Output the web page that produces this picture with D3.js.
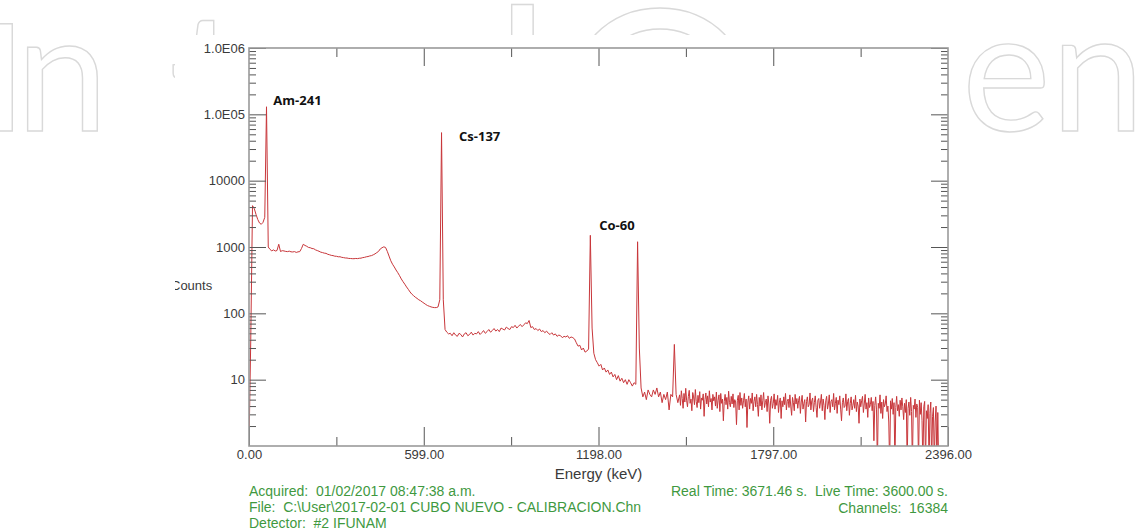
<!DOCTYPE html>
<html lang="en">
<head>
  <meta charset="utf-8">
  <title>Gamma spectrum - calibration</title>
  <script src="https://cdn.jsdelivr.net/npm/d3@7/dist/d3.min.js"></script>
  <style>
  body { margin: 0; background: #fff; }
  .tick text { font-family: "Liberation Sans", Arial, sans-serif; font-size: 13px; fill: #3a3a3a; }
  .tick line { stroke: #555; stroke-width: 1; }
  .domain { display: none; }
  .info { font-family: "Liberation Sans", Arial, sans-serif; font-size: 14px; fill: #3f993f; }
  .peak { font-family: "Open Sans", sans-serif; font-weight: bold; font-size: 13px; fill: #111; }
  .wm { font-family: Lato, sans-serif; fill: #fff; stroke: #d9d9d9; stroke-width: 1.4; }
  </style>
</head>
<body>
<div id="chart"></div>
<script>
// spectrum values (counts per channel)
// first three blocks: one value every 6 keV starting at 0 keV
var stepKeV = 6;
var lowCounts = [ // 0 - 534 keV : Am-241 region and Compton continuum
  1, 40, 4200, 3800, 3100, 2600, 2300, 2200, 2350, 2800,
  130000, 1000, 920, 875, 905, 870, 885, 1100, 855, 880,
  872, 858, 852, 866, 846, 842, 853, 828, 845, 852,
  950, 1100, 1055, 1025, 985, 975, 948, 942, 905, 884,
  862, 836, 824, 808, 802, 776, 764, 748, 742, 727,
  724, 712, 713, 698, 692, 683, 682, 672, 671, 667,
  666, 672, 668, 676, 679, 692, 698, 712, 718, 733,
  742, 763, 788, 823, 858, 935, 975, 1005, 985, 860,
  730, 620, 550, 500, 450, 410, 370, 330, 300, 275
];
var csCounts = [ // 540 - 1164 keV : Cs-137 peak and plateau
  250, 230, 210, 195, 185, 175, 168, 160, 155, 148,
  142, 136, 131, 128, 125, 123, 122, 122, 125, 160,
  53000, 160, 57, 52, 49, 50, 46, 51, 47, 45,
  50, 48, 44, 49, 51, 46, 48, 52, 47, 50,
  49, 53, 48, 51, 55, 50, 53, 57, 52, 55,
  59, 54, 57, 53, 60, 58, 56, 62, 59, 57,
  63, 61, 66, 60, 64, 68, 63, 67, 72, 70,
  78, 61, 63, 57, 59, 55, 58, 53, 55, 51,
  54, 50, 48, 51, 47, 49, 45, 47, 46, 43,
  45, 44, 46, 42, 44, 43, 41, 36, 32, 33,
  28, 30, 26, 27, 29
];
var coCounts = [ // 1170 - 1470 keV : Co-60 and K-40 peaks
  1500, 60, 25, 20, 18, 16, 17, 14, 15, 13,
  14, 12, 13, 11, 12, 10, 11.5, 9.5, 10.5, 9,
  10, 8.5, 10, 9, 8, 9, 8.5, 1200, 30, 7.5,
  5.5, 6.5, 5, 7, 6, 5.5, 7, 6, 7.5, 5.5,
  6.5, 4.5, 6, 5, 6.5, 3.5, 6, 5.5, 34, 6,
  4.5
];
// background tail: one value every 3 keV from 1476 keV
var tailStartKeV = 1476, tailStepKeV = 3;
var tailCounts = [
  5.9, 4.1, 6.8, 5.2, 3.7, 6.2, 4.6, 7.4, 4.9, 3.9, 5.6, 6.9, 4.4, 5.1, 3.4, 6.4, 5.5, 4.2, 7.1, 4.7,
  3.8, 5.8, 4.5, 6.6, 3.6, 5.3, 4.9, 6.1, 2.8, 5.0, 6.3, 4.3, 5.7, 3.9, 6.8, 4.6, 5.2, 3.5, 6.0, 4.8,
  5.5, 4.0, 6.5, 3.7, 4.9, 5.9, 3.3, 6.2, 4.4, 5.1, 2.4, 4.7, 6.0, 4.2, 5.4, 3.6, 6.7, 4.5, 3.9, 5.6,
  4.3, 6.1, 3.8, 5.0, 4.6, 2.1, 4.9, 5.8, 3.5, 6.4, 4.1, 5.3, 3.7, 4.8, 6.2, 3.9, 5.1, 1.9, 4.6, 5.7,
  3.6, 5.2, 4.4, 6.3, 3.4, 4.7, 5.5, 3.9, 6.0, 4.2, 2.8, 5.4, 4.0, 5.9, 3.5, 4.8, 6.4, 3.8, 4.5, 5.1,
  3.3, 5.7, 4.3, 2.2, 4.9, 5.6, 3.7, 4.4, 6.1, 3.6, 5.0, 4.1, 5.8, 3.2, 4.6, 5.3, 2.6, 4.8, 3.9, 5.5,
  4.2, 6.2, 3.5, 4.7, 5.1, 3.8, 5.9, 4.0, 2.9, 5.4, 4.5, 3.4, 6.0, 4.3, 5.2, 3.7, 4.9, 5.6, 3.1, 4.6,
  5.8, 3.6, 4.4, 5.0, 2.3, 4.7, 5.5, 3.9, 4.2, 6.3, 3.5, 4.8, 5.3, 3.3, 4.5, 5.7, 3.8, 2.7, 4.9, 5.2,
  3.7, 4.6, 6.0, 3.4, 5.1, 4.1, 2.5, 4.8, 5.6, 3.6, 4.3, 5.9, 3.2, 4.7, 5.0, 3.9, 6.2, 3.5, 4.4, 5.4,
  3.1, 4.9, 4.2, 5.7, 3.6, 2.4, 4.5, 5.3, 3.8, 4.0, 6.1, 3.4, 4.7, 5.2, 2.9, 4.4, 5.5, 3.5, 4.1, 5.0,
  3.7, 5.8, 3.3, 4.6, 4.0, 2.2, 5.1, 3.9, 4.8, 5.6, 3.2, 4.3, 6.0, 3.6, 4.5, 2.7, 5.3, 3.8, 4.2, 5.4,
  3.4, 4.7, 1.2, 4.1, 5.5, 3.5, 0.5, 4.4, 3.7, 5.9, 3.1, 4.6, 2.6, 5.0, 3.9, 4.3, 5.7, 3.3, 4.0, 2.3,
  0.5, 4.8, 3.6, 5.2, 3.0, 4.5, 0.5, 3.8, 5.6, 3.4, 4.2, 2.8, 4.9, 3.5, 5.3, 3.9, 2.5, 4.4, 3.2, 5.0,
  0.5, 3.7, 4.6, 2.9, 5.4, 3.3, 0.5, 4.1, 3.6, 5.1, 2.7, 4.3, 3.8, 0.5, 4.9, 3.0, 4.5, 2.4, 0.5, 3.9,
  4.7, 0.5, 3.4, 2.6, 4.2, 0.5, 3.1, 4.6, 0.5, 2.8, 3.8, 0.5, 2.3, 4.0, 0.5, 3.2, 0.5
];

var xMajorTicks = [0, 599, 1198, 1797, 2396];
var xMinorTicks = [299.5, 898.5, 1497.5, 2096.5];
var yDecades = [1e1, 1e2, 1e3, 1e4, 1e5, 1e6];
var yLabels = ["10", "100", "1000", "10000", "1.0E05", "1.0E06"];

var peakLabels = [
  { name: "Am-241", energy: 59.5, counts: 130000 },
  { name: "Cs-137", energy: 661.7, counts: 53000 },
  { name: "Co-60", energy: 1173.2, counts: 1500 }
];

var infoLeft = [
  "Acquired:  01/02/2017 08:47:38 a.m.",
  "File:  C:\\User\\2017-02-01 CUBO NUEVO - CALIBRACION.Chn",
  "Detector:  #2 IFUNAM"
];
var infoRight = [
  "Real Time: 3671.46 s.  Live Time: 3600.00 s.",
  "Channels:  16384"
];

var watermarkText = ["I", "n", "tech", "O", "p", "en"];

// join the blocks into [energy, counts] points
var points = [];
lowCounts.concat(csCounts, coCounts).forEach(function(c, i) {
  points.push([i * stepKeV, c]);
});
tailCounts.forEach(function(c, i) {
  points.push([tailStartKeV + i * tailStepKeV, c]);
});

var width = 1140, height = 531;
var plotLeft = 249, plotRight = 948, plotTop = 48, plotBottom = 446;

var svg = d3.select("#chart").append("svg")
  .attr("width", width)
  .attr("height", height);

// faint publisher watermark behind the chart picture
var wmPos = [[-16, 131, 150], [16, 131, 165], [168, 182, 240], [560, 190, 250], [830, 131, 150], [962, 131, 168]];
svg.selectAll(".wm")
  .data(watermarkText)
  .enter().append("text")
  .attr("class", "wm")
  .attr("x", function(d, i) { return wmPos[i][0]; })
  .attr("y", function(d, i) { return wmPos[i][1]; })
  .style("font-size", function(d, i) { return wmPos[i][2] + "px"; })
  .text(function(d) { return d; });

// the chart picture itself has a white background
svg.append("rect")
  .attr("x", 175).attr("y", 35)
  .attr("width", 790).attr("height", height - 35)
  .attr("fill", "#fff");

var x = d3.scaleLinear().domain([0, 2396]).range([plotLeft, plotRight]);
var y = d3.scaleLog().domain([1, 1e6]).range([plotBottom, plotTop]);

// minor log ticks 2..9 for each decade
var yMinor = [];
for (var dec = 1; dec < 1e6; dec *= 10) {
  for (var m = 2; m <= 9; m++) yMinor.push(dec * m);
}

var defs = svg.append("defs");
defs.append("clipPath").attr("id", "plotClip")
  .append("rect")
  .attr("x", plotLeft).attr("y", plotTop)
  .attr("width", plotRight - plotLeft).attr("height", plotBottom - plotTop);
defs.append("clipPath").attr("id", "pageClip")
  .append("rect")
  .attr("x", 175).attr("y", 35)
  .attr("width", 790).attr("height", height - 35);

// spectrum
var line = d3.line()
  .x(function(d) { return x(d[0]); })
  .y(function(d) { return y(d[1]); });

svg.append("path")
  .datum(points)
  .attr("clip-path", "url(#plotClip)")
  .attr("d", line)
  .style("fill", "none")
  .style("stroke", "#c8363a")
  .style("stroke-width", 1)
  .style("stroke-linejoin", "round");

// y axes (ticks point inwards)
svg.append("g")
  .attr("transform", "translate(" + plotLeft + ",0)")
  .call(d3.axisLeft(y).tickValues(yMinor).tickSize(-7).tickFormat(""));
svg.append("g")
  .attr("transform", "translate(" + plotLeft + ",0)")
  .call(d3.axisLeft(y).tickValues(yDecades).tickSize(-17).tickPadding(4)
    .tickFormat(function(d, i) { return yLabels[i]; }));
svg.append("g")
  .attr("transform", "translate(" + plotRight + ",0)")
  .call(d3.axisRight(y).tickValues(yMinor).tickSize(-7).tickFormat(""));
svg.append("g")
  .attr("transform", "translate(" + plotRight + ",0)")
  .call(d3.axisRight(y).tickValues(yDecades).tickSize(-17).tickFormat(""));

// x axes
svg.append("g")
  .attr("transform", "translate(0," + plotBottom + ")")
  .call(d3.axisBottom(x).tickValues(xMajorTicks).tickSize(-19).tickPadding(4)
    .tickFormat(d3.format(".2f")));
svg.append("g")
  .attr("transform", "translate(0," + plotBottom + ")")
  .call(d3.axisBottom(x).tickValues(xMinorTicks).tickSize(-9).tickFormat(""));
svg.append("g")
  .attr("transform", "translate(0," + plotTop + ")")
  .call(d3.axisTop(x).tickValues(xMajorTicks.slice(1, 4)).tickSize(-18).tickFormat(""));
svg.append("g")
  .attr("transform", "translate(0," + plotTop + ")")
  .call(d3.axisTop(x).tickValues(xMinorTicks).tickSize(-9).tickFormat(""));

// frame
svg.append("rect")
  .attr("x", plotLeft).attr("y", plotTop)
  .attr("width", plotRight - plotLeft).attr("height", plotBottom - plotTop)
  .style("fill", "none")
  .style("stroke", "#9a9a9a")
  .style("stroke-width", 1.6);

// axis titles
svg.append("text")
  .attr("x", x(1198)).attr("y", 479)
  .attr("text-anchor", "middle")
  .style("font-family", "Liberation Sans, Arial, sans-serif")
  .style("font-size", "15px")
  .style("fill", "#3a3a3a")
  .text("Energy (keV)");

svg.append("text")
  .attr("clip-path", "url(#pageClip)")
  .attr("x", 171).attr("y", 290)
  .style("font-family", "Liberation Sans, Arial, sans-serif")
  .style("font-size", "13px")
  .style("fill", "#3a3a3a")
  .text("Counts");

// peak labels, offset from the top of each peak
var labelOffset = [[7, -2], [17, 8], [8, -5]];
svg.selectAll(".peak")
  .data(peakLabels)
  .enter().append("text")
  .attr("class", "peak")
  .attr("x", function(d, i) { return x(d.energy) + labelOffset[i][0]; })
  .attr("y", function(d, i) { return y(d.counts) + labelOffset[i][1]; })
  .text(function(d) { return d.name; });

// acquisition info
svg.selectAll(".infoL")
  .data(infoLeft)
  .enter().append("text")
  .attr("class", "info")
  .attr("x", plotLeft)
  .attr("y", function(d, i) { return 495.5 + i * 16.3; })
  .style("white-space", "pre")
  .text(function(d) { return d; });

svg.selectAll(".infoR")
  .data(infoRight)
  .enter().append("text")
  .attr("class", "info")
  .attr("x", plotRight)
  .attr("y", function(d, i) { return 496 + i * 16.8; })
  .attr("text-anchor", "end")
  .style("white-space", "pre")
  .text(function(d) { return d; });
</script>
</body>
</html>
